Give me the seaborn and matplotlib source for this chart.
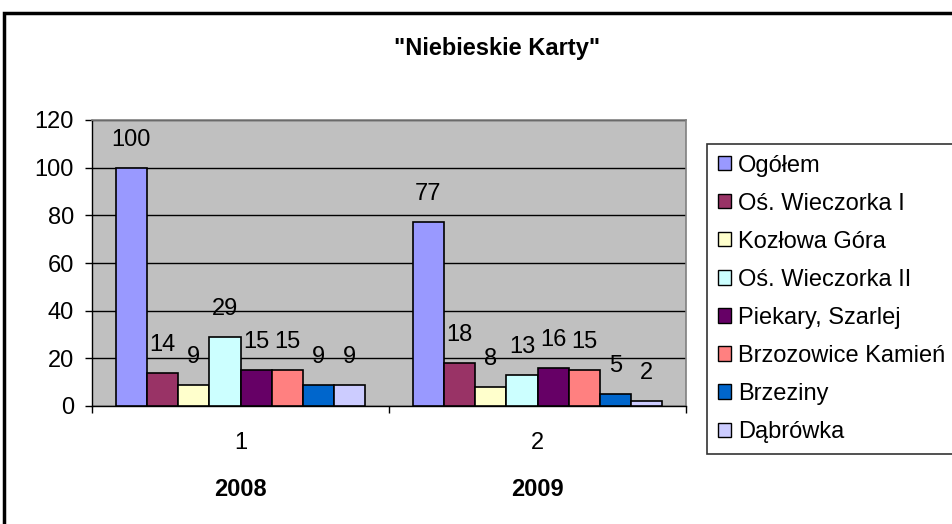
import matplotlib
matplotlib.use("Agg")
import matplotlib.pyplot as plt
import seaborn as sns
import pandas as pd
from matplotlib.patches import Rectangle

categories = ["1", "2"]
years = ["2008", "2009"]
series = ["Ogółem", "Oś. Wieczorka I", "Kozłowa Góra", "Oś. Wieczorka II",
          "Piekary, Szarlej", "Brzozowice Kamień", "Brzeziny", "Dąbrówka"]
values_2008 = [100, 14, 9, 29, 15, 15, 9, 9]
values_2009 = [77, 18, 8, 13, 16, 15, 5, 2]
colors = ["#9999FF", "#993366", "#FFFFCC", "#CCFFFF",
          "#660066", "#FF8080", "#0066CC", "#CCCCFF"]
yticks = [0, 20, 40, 60, 80, 100, 120]

rows = []
for cat, vals in zip(categories, [values_2008, values_2009]):
    for s, v in zip(series, vals):
        rows.append({"cat": cat, "series": s, "value": v})
df = pd.DataFrame(rows)

sns.set_theme(style="white")
plt.rcParams["font.family"] = ["Liberation Sans", "DejaVu Sans"]
plt.rcParams["text.color"] = "black"
plt.rcParams["xtick.color"] = "black"
plt.rcParams["ytick.color"] = "black"

FS = 17

fig = plt.figure(figsize=(9.52, 5.24), dpi=100)
ax = fig.add_axes([92/952, 1-406/524, (686-92)/952, (406-120)/524])
ax.set_facecolor("#C0C0C0")

sns.barplot(data=df, x="cat", y="value", hue="series", hue_order=series,
            order=categories, palette=colors, width=0.84, dodge=True,
            edgecolor="black", linewidth=1.2, saturation=1, ax=ax, zorder=3)

for container in ax.containers:
    for bar in container:
        h = bar.get_height()
        ax.annotate(f"{int(round(h))}", (bar.get_x() + bar.get_width()/2, h),
                    xytext=(0, 28), textcoords="offset pixels",
                    ha="center", va="center", fontsize=FS, color="black", zorder=5)

ax.set_ylim(0, 120)
ax.set_xlim(-0.5, 1.5)
ax.set_yticks(yticks)
ax.set_yticklabels([str(t) for t in yticks], fontsize=FS)
ax.yaxis.grid(True, color="black", linewidth=1, zorder=1)
ax.set_axisbelow(True)
ax.tick_params(axis="y", direction="out", length=5, width=1, color="black", left=True, pad=8)

ax.set_xticks([-0.5, 0.5, 1.5])
ax.set_xticklabels(["", "", ""])
ax.tick_params(axis="x", which="major", direction="out", length=5, width=1, color="black", bottom=True)
ax.set_xticks([0, 1], minor=True)
ax.set_xticklabels(categories, minor=True, fontsize=FS)
ax.tick_params(axis="x", which="minor", length=0, pad=19)
ax.set_xlabel("")
ax.set_ylabel("")

for i, yr in enumerate(years):
    ax.text(i, -83/286, yr, transform=ax.get_xaxis_transform(), ha="center", va="center",
            fontsize=FS, fontweight="bold")

for sp in ["left", "bottom"]:
    ax.spines[sp].set_color("black")
    ax.spines[sp].set_linewidth(1)
for sp in ["top", "right"]:
    ax.spines[sp].set_color("#808080")
    ax.spines[sp].set_linewidth(1.2)

fig.text(497/952, 1-48/524, "\"Niebieskie Karty\"", ha="center", va="center",
         fontsize=FS, fontweight="bold")

handles, labels = ax.get_legend_handles_labels()
if ax.legend_:
    ax.legend_.remove()
leg = fig.legend(handles, labels, loc="upper left", bbox_to_anchor=(707/952, 1-144/524),
                 frameon=True, fancybox=False, fontsize=FS, handlelength=0.55,
                 handleheight=0.55, handletextpad=0.3, labelspacing=0.68,
                 borderpad=0.45, borderaxespad=0)
leg.get_frame().set_edgecolor("black")
leg.get_frame().set_linewidth(1.2)
for h in leg.legend_handles:
    h.set_edgecolor("black")
    h.set_linewidth(1)

fig.patches.append(Rectangle((4/952, -0.1), 1.2, 1-13/524+0.1, transform=fig.transFigure,
                             fill=False, edgecolor="black", linewidth=2.5))

fig.savefig("out.png", dpi=100)
